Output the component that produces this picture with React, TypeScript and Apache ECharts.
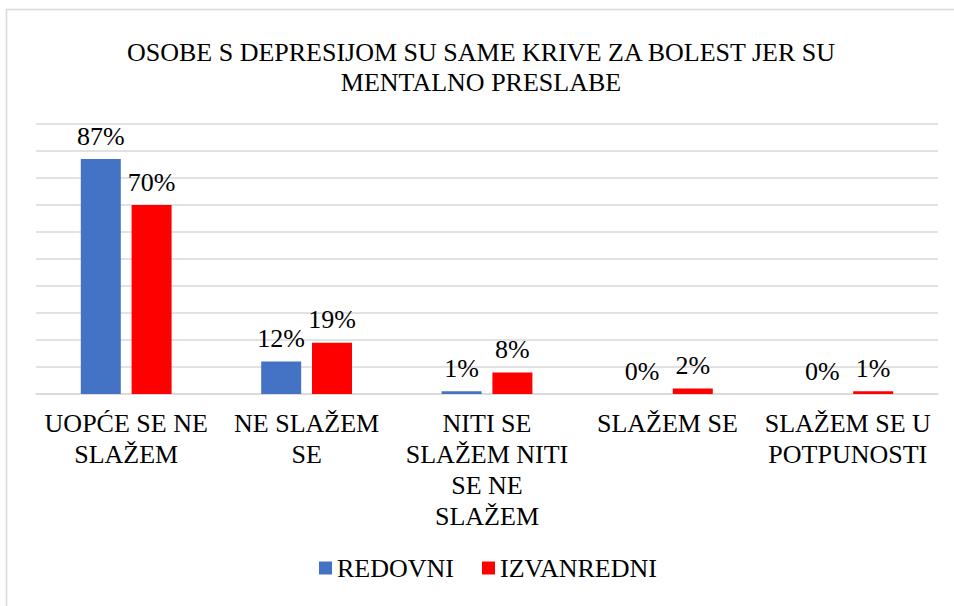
import React, { useEffect, useRef } from "react";
import * as echarts from "echarts";

const categories = [
  "UOPĆE SE NE\nSLAŽEM",
  "NE SLAŽEM\nSE",
  "NITI SE\nSLAŽEM NITI\nSE NE\nSLAŽEM",
  "SLAŽEM SE",
  "SLAŽEM SE U\nPOTPUNOSTI",
];
const redovni = [87, 12, 1, 0, 0];
const izvanredni = [70, 19, 8, 2, 1];
const titleText = "OSOBE S DEPRESIJOM SU SAME KRIVE ZA BOLEST JER SU\nMENTALNO PRESLABE";

const FONT = "Liberation Serif";
const FS = 26;

const wrap = (s: string) =>
  s
    .split("\n")
    .map((l) => `{s|${l}}`)
    .join("\n");

export default function App() {
  const ref = useRef<HTMLDivElement>(null);
  useEffect(() => {
    const chart = echarts.init(ref.current!, null, { renderer: "svg" });
    const richS = { s: { fontFamily: FONT, fontSize: FS, color: "#000" } };
    const label = {
      show: true,
      position: "top",
      distance: 10,
      formatter: (p: any) => `{s|${p.value}%}`,
      fontFamily: FONT,
      fontSize: FS,
      color: "#000",
      rich: richS,
    };
    chart.setOption({
      animation: false,
      backgroundColor: "#fff",
      textStyle: { fontFamily: FONT, fontSize: FS, color: "#000" },
      graphic: [
        {
          type: "rect",
          shape: { x: 6.5, y: 9.5, width: 960, height: 620 },
          style: { fill: "none", stroke: "#d9d9d9", lineWidth: 1.5 },
          silent: true,
        },
      ],
      title: {
        text: wrap(titleText),
        left: 476,
        textAlign: "center",
        top: 32,
        textStyle: {
          fontFamily: FONT,
          fontSize: FS,
          fontWeight: "normal",
          color: "#000",
          lineHeight: 30,
          rich: { s: { fontFamily: FONT, fontSize: FS, color: "#000", lineHeight: 30 } },
        },
      },
      legend: {
        bottom: 20,
        left: 314,
        itemWidth: 13,
        itemHeight: 13,
        itemGap: 28,
        icon: "rect",
        formatter: (n: string) => `{s|${n}}`,
        textStyle: { fontFamily: FONT, fontSize: FS, color: "#000", rich: richS },
        data: ["REDOVNI", "IZVANREDNI"],
      },
      grid: { left: 36, right: 16, top: 124, height: 270 },
      xAxis: {
        type: "category",
        data: categories,
        axisLine: { lineStyle: { color: "#d9d9d9", width: 1.5 } },
        axisTick: { show: false },
        axisLabel: {
          interval: 0,
          margin: 14,
          fontFamily: FONT,
          fontSize: FS,
          lineHeight: 31,
          color: "#000",
          formatter: (v: string) => wrap(v),
          rich: { s: { fontFamily: FONT, fontSize: FS, color: "#000", lineHeight: 31 } },
        },
      },
      yAxis: {
        type: "value",
        min: 0,
        max: 100,
        interval: 10,
        axisLabel: { show: false },
        axisLine: { show: false },
        axisTick: { show: false },
        splitLine: { lineStyle: { color: "#d9d9d9", width: 1.5 } },
      },
      series: [
        {
          name: "REDOVNI",
          type: "bar",
          data: redovni,
          barWidth: 40,
          barGap: "27%",
          itemStyle: { color: "#4472C4" },
          label,
        },
        {
          name: "IZVANREDNI",
          type: "bar",
          data: izvanredni,
          barWidth: 40,
          itemStyle: { color: "#FF0000" },
          label,
        },
      ],
    });
    return () => chart.dispose();
  }, []);
  return (
    <div
      ref={ref}
      style={{ position: "absolute", left: 0, top: 0, width: 954, height: 606 }}
    />
  );
}
